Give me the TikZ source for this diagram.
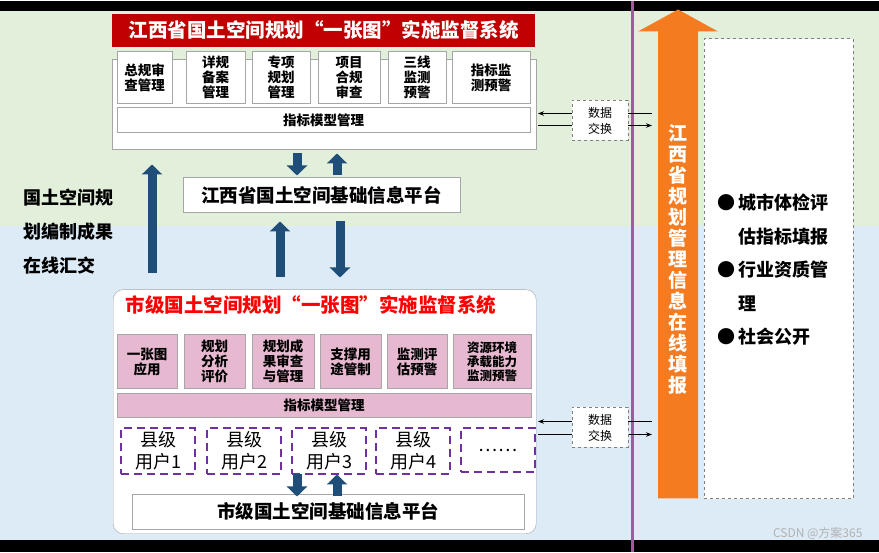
\documentclass[tikz,border=0pt]{standalone}
\usepackage{fontspec}
\setmainfont{Noto Sans CJK SC}
\usetikzlibrary{arrows.meta,positioning}
\definecolor{bggreen}{HTML}{E2EFDA}
\definecolor{bgblue}{HTML}{DDEBF7}
\definecolor{titlered}{HTML}{C00000}
\definecolor{navy}{HTML}{1F4E79}
\definecolor{modpink}{HTML}{E6B9D1}
\definecolor{lineviolet}{HTML}{A35A9C}
\definecolor{dashviolet}{HTML}{7030A0}
\definecolor{orangeA}{HTML}{F47B20}
\begin{document}
\begin{tikzpicture}[x=1pt,y=-1pt,
	modbox/.style={draw=gray!70, fill=white, minimum height=52pt, inner sep=1pt, font=\bfseries\fontsize{13.5}{15}\selectfont, align=center, anchor=north west},
	pinkbox/.style={modbox, fill=modpink, draw=gray!70},
	userbox/.style={draw=dashviolet, dashed, dash pattern=on 8pt off 5pt, line width=2pt, minimum height=44pt, minimum width=74pt, align=center, anchor=north west, font=\fontsize{18}{22}\selectfont},
	xchbox/.style={draw=gray, dashed, fill=white, minimum width=56pt, minimum height=40pt, align=center, font=\fontsize{12}{16}\selectfont},
	platbox/.style={draw=gray!70, fill=white, font=\bfseries\fontsize{18.5}{20}\selectfont},
	blockarrow/.style={navy, line width=9pt, -{Triangle[width=20pt,length=10pt]}},
	thin arrow/.style={-{Stealth[length=6pt]}, thick}]

	% background
	\fill[black] (0,0) rectangle (879,550);
	\fill[bggreen] (0,10) rectangle (879,225);
	\fill[bgblue] (0,225) rectangle (879,538);
	\draw[lineviolet, line width=3pt] (632,0) -- (632,550);

	% provincial system
	\node[draw=gray!70, fill=white, minimum width=424pt, minimum height=90pt, anchor=north west] (provsys) at (112,58) {};
	\node[fill=titlered, text=white, font=\bfseries\fontsize{19.5}{21}\selectfont, minimum width=423pt, minimum height=33pt, anchor=north west] (provtitle) at (112,12) {江西省国土空间规划“一张图”实施监督系统};
	\node[modbox, minimum width=55pt] (p1) at (117,50) {总规审\\查管理};
	\node[modbox, minimum width=59pt] (p2) at (186,50) {详规\\备案\\管理};
	\node[modbox, minimum width=58pt] (p3) at (252,50) {专项\\规划\\管理};
	\node[modbox, minimum width=62pt] (p4) at (318,50) {项目\\合规\\审查};
	\node[modbox, minimum width=58pt] (p5) at (388,50) {三线\\监测\\预警};
	\node[modbox, minimum width=78pt] (p6) at (452,50) {指标监\\测预警};
	\node[modbox, minimum width=413pt, minimum height=25pt] (provmodel) at (117,106) {指标模型管理};

	% provincial platform
	\node[platbox, minimum width=277pt, minimum height=35pt, anchor=north west] (provplat) at (183,176) {江西省国土空间基础信息平台};
	\draw[blockarrow] (297,152) -- (297,174);
	\draw[blockarrow] (337,174) -- (337,152);

	% upload
	\node[align=left, anchor=north west, font=\bfseries\fontsize{18}{34}\selectfont] (upload) at (20,184) {国土空间规\\划编制成果\\在线汇交};
	\draw[blockarrow] (152,272) -- (152,163);
	\draw[blockarrow] (280,276) -- (280,220);
	\draw[blockarrow] (340,220) -- (340,276);

	% city system
	\node[draw=gray!70, fill=white, rounded corners=10pt, minimum width=423pt, minimum height=244pt, anchor=north west] (citysys) at (113,288) {};
	\node[text=red, font=\bfseries\fontsize{19.5}{21}\selectfont] (citytitle) at (311,304) {市级国土空间规划“一张图”实施监督系统};
	\node[pinkbox, minimum width=60pt, minimum height=54pt] (c1) at (117,333) {一张图\\应用};
	\node[pinkbox, minimum width=61pt, minimum height=54pt] (c2) at (184,333) {规划\\分析\\评价};
	\node[pinkbox, minimum width=62pt, minimum height=54pt] (c3) at (252,333) {规划成\\果审查\\与管理};
	\node[pinkbox, minimum width=61pt, minimum height=54pt] (c4) at (320,333) {支撑用\\途管制};
	\node[pinkbox, minimum width=60pt, minimum height=54pt] (c5) at (387,333) {监测评\\估预警};
	\node[pinkbox, minimum width=78pt, minimum height=54pt, font=\bfseries\fontsize{12.5}{14}\selectfont] (c6) at (453,333) {资源环境\\承载能力\\监测预警};
	\node[pinkbox, minimum width=414pt, minimum height=24pt] (citymodel) at (117,392) {指标模型管理};
	\foreach \x/\n in {120/1,206/2,291/3,375/4}
		\node[userbox] (u\n) at (\x,426) {县级\\用户\n};
	\node[userbox] (u5) at (460,426) {……};

	% city platform
	\node[platbox, minimum width=392pt, minimum height=34pt, anchor=north west] (cityplat) at (132,493) {市级国土空间基础信息平台};
	\draw[blockarrow] (297,473) -- (297,495);
	\draw[blockarrow] (337,495) -- (337,473);

	% data exchange
	\coordinate (xa1) at (538,112); \coordinate (xb1) at (652,112);
	\coordinate (xa2) at (538,124); \coordinate (xb2) at (652,124);
	\draw[thin arrow] (xb1) -- (xa1);
	\draw[thin arrow] (xa2) -- (xb2);
	\node[xchbox] (xch1) at (600,119) {数据\\交换};
	\coordinate (ya1) at (538,420); \coordinate (yb1) at (652,420);
	\coordinate (ya2) at (538,433); \coordinate (yb2) at (652,433);
	\draw[thin arrow] (yb1) -- (ya1);
	\draw[thin arrow] (ya2) -- (yb2);
	\node[xchbox] (xch2) at (600,426) {数据\\交换};

	% online filing
	\fill[orangeA] (658,497) -- (698,497) -- (698,30) -- (718,30) -- (678,8) -- (638,30) -- (658,30) -- cycle;
	\node[text=white, align=center, font=\bfseries\fontsize{19}{21}\selectfont] (filing) at (678,258) {江\\西\\省\\规\\划\\管\\理\\信\\息\\在\\线\\填\\报};
	\node[draw=gray, dashed, fill=white, minimum width=149pt, minimum height=460pt, anchor=north west] (filebox) at (704,37) {};
	\node[align=left, anchor=north west, font=\bfseries\fontsize{18}{33.5}\selectfont] (items) at (714,189)
		{●\,城市体检评\\\phantom{●\,}估指标填报\\●\,行业资质管\\\phantom{●\,}理\\●\,社会公开};

	\node[text=gray!60, font=\fontsize{12}{13}\selectfont, anchor=east] (mark) at (866,532) {CSDN @方案365};
\end{tikzpicture}
\end{document}
